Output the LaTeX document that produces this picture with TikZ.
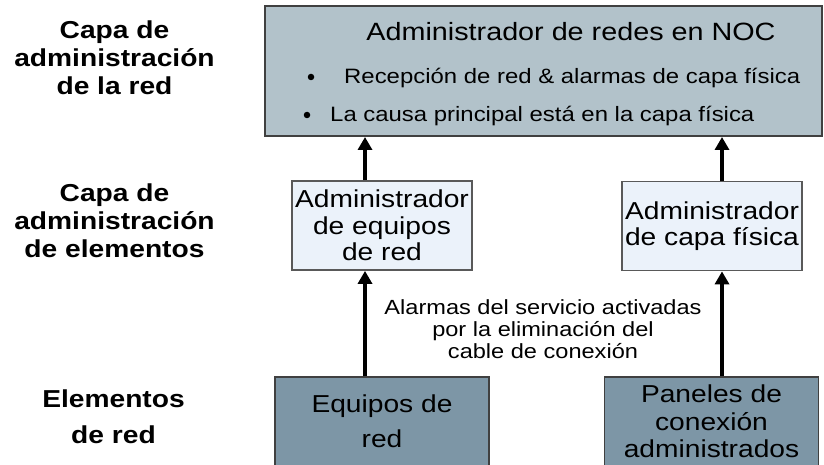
\documentclass[tikz,border=0pt]{standalone}
\usepackage{fontspec}
\setmainfont{Liberation Sans}[FakeStretch=1.15]
\usetikzlibrary{arrows.meta,positioning}

\definecolor{nocfill}{HTML}{B2C2CA}
\definecolor{emsfill}{HTML}{EBF2FA}
\definecolor{nefill}{HTML}{7D96A6}
\definecolor{edge}{HTML}{404040}

\begin{document}
\begin{tikzpicture}[x=1pt, y=-1pt,
    layer/.style={font=\fontsize{24.5}{28}\selectfont\bfseries, align=center},
    top/.style={draw=edge, line width=2pt, fill=nocfill, minimum width=557pt, minimum height=130pt, inner sep=0pt},
    mgr/.style={draw=black!65, line width=1.8pt, fill=emsfill, minimum width=180pt, minimum height=89pt, inner sep=0pt, align=center, font=\fontsize{24.5}{26.5}\selectfont},
    ne/.style={draw=edge, line width=1.8pt, fill=nefill, minimum width=214pt, minimum height=89pt, inner sep=0pt, align=center},
    item/.style={font=\fontsize{20.8}{22}\selectfont, anchor=base west, inner sep=0pt},
    dot/.style={circle, fill=black, inner sep=0pt, minimum size=6.5pt},
    arr/.style={-{Triangle[width=14pt,length=13pt]}, line width=3.6pt}
  ]
    \useasboundingbox (0,0) rectangle (824,465);
    % capas a la izquierda
    \node[layer] (lyRed) at (114.5,58) {Capa de\\administración\\de la red};
    \node[layer] (lyElem) at (114.5,221) {Capa de\\administración\\de elementos};
    \node[layer, font=\fontsize{24.5}{36}\selectfont\bfseries] (lyNe) at (113.5,417) {Elementos\\de red};
    % NOC
    \node[top] (noc) at (543.5,71) {};
    \node[font=\fontsize{25}{25}\selectfont, anchor=base, inner sep=0pt] (title) at (571,41) {Administrador de redes en NOC};
    \node[dot] (dotA) at (311,77) {};
    \node[item] (itemA) at (344,84) {Recepción de red \& alarmas de capa física};
    \node[dot] (dotB) at (307,115) {};
    \node[item] (itemB) at (330,122) {La causa principal está en la capa física};
    % gestores de elementos
    \node[mgr] (admEq) at (382,225.5) {Administrador\\de equipos\\de red};
    \node[mgr] (admFis) at (712,226) {Administrador\\de capa física};
    % elementos de red
    \node[ne, font=\fontsize{24.5}{35}\selectfont] (eqRed) at (382,421.5) {Equipos de\\red};
    \node[ne, font=\fontsize{24.5}{27.5}\selectfont] (panel) at (711.5,421.5) {Paneles de\\conexión\\administrados};
    \node[font=\fontsize{20.5}{22}\selectfont, align=center] (alarma) at (543,329.5) {Alarmas del servicio activadas\\por la eliminación del\\cable de conexión};
    % flechas
    \draw[arr] ([xshift=-17pt]eqRed.north) -- ([xshift=-17pt]admEq.south);
    \draw[arr] ([xshift=-17pt]admEq.north) -- ([xshift=-17pt]admEq.north |- noc.south);
    \draw[arr] ([xshift=10.5pt]panel.north) -- ([xshift=10.5pt]panel.north |- admFis.south);
    \draw[arr] ([xshift=10pt]admFis.north) -- ([xshift=10pt]admFis.north |- noc.south);
  \end{tikzpicture}
\end{document}
